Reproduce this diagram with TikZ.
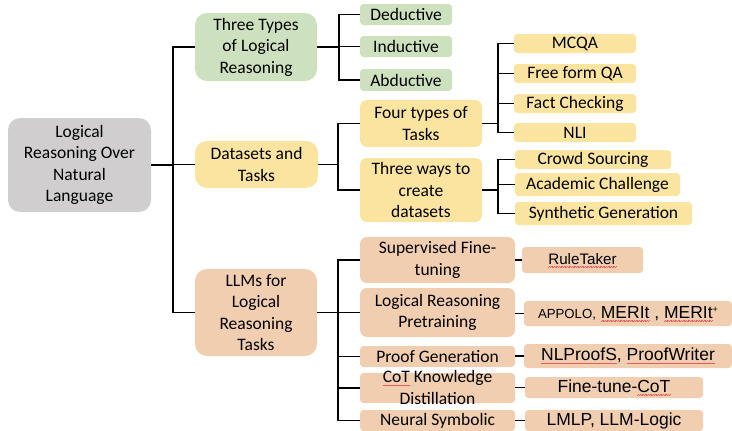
\documentclass[tikz,border=0pt]{standalone}
\usepackage{fontspec}
\setmainfont{Carlito}
\newfontfamily\arialf{Liberation Sans}
\definecolor{gfill}{RGB}{205,225,190}
\definecolor{yfill}{RGB}{251,228,160}
\definecolor{pfill}{RGB}{242,206,177}
\definecolor{grfill}{RGB}{208,206,207}
\definecolor{spellred}{RGB}{235,90,90}
\newsavebox\spbox
\newcommand\spellu[1]{\sbox\spbox{#1}\rlap{\raisebox{-2.8pt}{\color{spellred}\hbox to \wd\spbox{\xleaders\hbox{\rule{0.8pt}{0.4pt}\rule[0.5pt]{0.8pt}{0.4pt}}\hfil}}}\usebox\spbox}
\begin{document}
\begin{tikzpicture}[x=1pt,y=-1pt,
  bx/.style={draw=none, inner sep=0pt, align=center, text=black,
    font=\fontsize{17.5}{21.5}\selectfont},
  ar/.style={font=\arialf\fontsize{17.5}{21}\selectfont},
  rbig/.style={rounded corners=12pt},
  rmid/.style={rounded corners=7pt},
  rsm/.style={rounded corners=3.5pt},
  conn/.style={draw=black, line width=1.3pt}]
\useasboundingbox (0,0) rectangle (732,431);
% root
\node[bx, rbig, fill=grfill, minimum width=143pt, minimum height=94pt] (root) at (79.5,165) {Logical\\Reasoning Over\\Natural\\Language};
% level 1
\node[bx, rbig, fill=gfill, minimum width=122pt, minimum height=68pt] (three) at (256,47) {Three Types\\of Logical\\Reasoning};
\node[bx, rbig, fill=yfill, minimum width=123pt, minimum height=47pt] (data) at (256.5,164.5) {Datasets and\\Tasks};
\node[bx, rbig, fill=pfill, minimum width=122pt, minimum height=87pt] (llm) at (256,312.5) {LLMs for\\Logical\\Reasoning\\Tasks};
% green leaves
\node[bx, rsm, fill=gfill, minimum width=92pt, minimum height=21pt] (ded) at (406,14.5) {Deductive};
\node[bx, rsm, fill=gfill, minimum width=92pt, minimum height=21pt] (ind) at (406,46.5) {Inductive};
\node[bx, rsm, fill=gfill, minimum width=92pt, minimum height=22pt] (abd) at (406,80) {Abductive};
% datasets level 2
\node[bx, rmid, fill=yfill, minimum width=122pt, minimum height=47pt] (four) at (421,123.5) {Four types of\\Tasks};
\node[bx, rmid, fill=yfill, minimum width=122pt, minimum height=64pt] (ways) at (421,190) {Three ways to\\create\\datasets};
% datasets leaves
\node[bx, rsm, fill=yfill, minimum width=122pt, minimum height=19pt] (mcqa) at (575,43.5) {MCQA};
\node[bx, rsm, fill=yfill, minimum width=122pt, minimum height=19pt] (ffqa) at (575,73.5) {Free form QA};
\node[bx, rsm, fill=yfill, minimum width=122pt, minimum height=19pt] (fact) at (575,103.5) {Fact Checking};
\node[bx, rsm, fill=yfill, minimum width=122pt, minimum height=19pt] (nli) at (575,132.5) {NLI};
\node[bx, rsm, fill=yfill, minimum width=156pt, minimum height=19pt] (crowd) at (593,159.5) {Crowd Sourcing};
\node[bx, rsm, fill=yfill, minimum width=165pt, minimum height=23pt] (acad) at (597.5,184.5) {Academic Challenge};
\node[bx, rsm, fill=yfill, minimum width=177pt, minimum height=23pt] (synth) at (603.5,213.5) {Synthetic Generation};
% LLM level 2
\node[bx, rmid, fill=pfill, minimum width=155pt, minimum height=46pt] (sup) at (437.5,260) {Supervised Fine-\\tuning};
\node[bx, rmid, fill=pfill, minimum width=155pt, minimum height=49pt] (lrp) at (437.5,312.5) {Logical Reasoning\\Pretraining};
\node[bx, rsm, fill=pfill, minimum width=155pt, minimum height=21pt] (proof) at (437.5,356.5) {Proof Generation};
\node[bx, rsm, fill=pfill, minimum width=155pt, minimum height=30pt] (cot) at (437.5,388) {};
\node[bx] (cottext) at (437.5,387.5) {\spellu{CoT} Knowledge\\Distillation};
\node[bx, rsm, fill=pfill, minimum width=155pt, minimum height=21pt] (neural) at (437.5,420.5) {Neural Symbolic};
% LLM leaves
\node[bx, ar, rsm, fill=pfill, minimum width=121pt, minimum height=26pt, font=\arialf\fontsize{15.2}{18}\selectfont] (rt) at (582.5,260) {\spellu{RuleTaker}};
\node[bx, ar, rsm, fill=pfill, minimum width=208pt, minimum height=25pt] (app) at (628,313.5) {{\fontsize{13.2}{15}\selectfont APPOLO,} \spellu{MERIt} , \spellu{MERIt}\raisebox{6pt}{\fontsize{9}{10}\selectfont +}};
\node[bx, ar, rsm, fill=pfill, minimum width=208pt, minimum height=24pt] (nlp) at (628,356) {\spellu{NLProofS}, \spellu{ProofWriter}};
\node[bx, ar, rsm, fill=pfill, minimum width=178pt, minimum height=21pt] (ftc) at (614,387.5) {Fine-tune-\spellu{CoT}};
\node[bx, ar, rsm, fill=pfill, minimum width=178pt, minimum height=21pt] (lmlp) at (614,420.5) {LMLP, LLM-Logic};
% fork positions
\coordinate (x0) at (173,0);
\coordinate (x1) at (339,0);
\coordinate (x2) at (338,0);
\coordinate (x3) at (498,0);
% root fork
\draw[conn] (root.east) -- (root.east -| x0);
\draw[conn] (three.west) -- (three.west -| x0) -- (llm.west -| x0) -- (llm.west);
\draw[conn] (data.west) -- (data.west -| x0);
% three types fork
\draw[conn] (three.east) -- (three.east -| x1);
\draw[conn] (ded.west) -- (ded.west -| x1) -- (abd.west -| x1) -- (abd.west);
\draw[conn] (ind.west) -- (ind.west -| x1);
% datasets fork
\draw[conn] (data.east) -- (data.east -| x2);
\draw[conn] (four.west) -- (four.west -| x2) -- (ways.west -| x2) -- (ways.west);
% four types fork
\draw[conn] (four.east) -- (four.east -| x3);
\draw[conn] (mcqa.west) -- (mcqa.west -| x3) -- (nli.west -| x3) -- (nli.west);
\draw[conn] (ffqa.west) -- (ffqa.west -| x3);
\draw[conn] (fact.west) -- (fact.west -| x3);
% three ways fork
\draw[conn] (ways.east) -- (ways.east -| x3);
\draw[conn] (crowd.west) -- (crowd.west -| x3) -- (synth.west -| x3) -- (synth.west);
\draw[conn] (acad.west) -- (acad.west -| x3);
% LLM fork
\draw[conn] (llm.east) -- (llm.east -| x2);
\draw[conn] (sup.west) -- (sup.west -| x2) -- (neural.west -| x2) -- (neural.west);
\draw[conn] (lrp.west) -- (lrp.west -| x2);
\draw[conn] (proof.west) -- (proof.west -| x2);
\draw[conn] (cot.west) -- (cot.west -| x2);
% LLM leaves
\draw[conn] (rt.west) -- (rt.west -| sup.east);
\draw[conn] (app.west) -- (app.west -| lrp.east);
\draw[conn] (nlp.west) -- (nlp.west -| proof.east);
\draw[conn] (ftc.west) -- (ftc.west -| cot.east);
\draw[conn] (lmlp.west) -- (lmlp.west -| neural.east);
\end{tikzpicture}
\end{document}
